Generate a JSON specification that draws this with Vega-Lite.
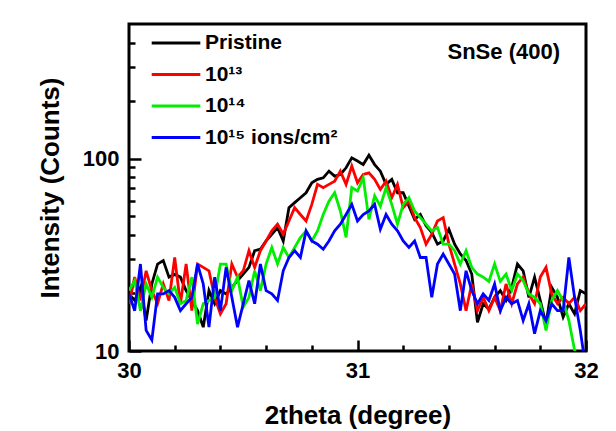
{
  "$schema": "https://vega.github.io/schema/vega-lite/v6.json",
  "width": 457,
  "height": 327,
  "autosize": "none",
  "padding": {"left": 129, "top": 24, "right": 30, "bottom": 80},
  "config": {
    "font": "Liberation Sans",
    "view": {"stroke": "black", "strokeWidth": 3}
  },
  "title": {
    "text": "SnSe (400)",
    "anchor": "end",
    "frame": "group",
    "orient": "top",
    "offset": -57,
    "baseline": "alphabetic",
    "dx": -26,
    "fontSize": 22,
    "fontWeight": "bold",
    "color": "black"
  },
  "data": {
    "values": [
      {"t": 30.000, "Pristine": 19.8, "10¹³": 17.6, "10¹⁴": 20.6, "10¹⁵ ions/cm²": 19.8},
      {"t": 30.025, "Pristine": 18.3, "10¹³": 24.2, "10¹⁴": 23.2, "10¹⁵ ions/cm²": 16.2},
      {"t": 30.050, "Pristine": 21.4, "10¹³": 18.3, "10¹⁴": 16.2, "10¹⁵ ions/cm²": 28.3},
      {"t": 30.075, "Pristine": 14.4, "10¹³": 26.1, "10¹⁴": 22.3, "10¹⁵ ions/cm²": 12.8},
      {"t": 30.100, "Pristine": 22.3, "10¹³": 20.6, "10¹⁴": 19.0, "10¹⁵ ions/cm²": 11.4},
      {"t": 30.125, "Pristine": 28.3, "10¹³": 17.6, "10¹⁴": 24.2, "10¹⁵ ions/cm²": 19.8},
      {"t": 30.150, "Pristine": 29.5, "10¹³": 22.3, "10¹⁴": 21.4, "10¹⁵ ions/cm²": 19.8},
      {"t": 30.175, "Pristine": 24.2, "10¹³": 18.3, "10¹⁴": 19.8, "10¹⁵ ions/cm²": 20.6},
      {"t": 30.200, "Pristine": 25.0, "10¹³": 30.6, "10¹⁴": 21.4, "10¹⁵ ions/cm²": 19.0},
      {"t": 30.225, "Pristine": 24.2, "10¹³": 17.6, "10¹⁴": 17.6, "10¹⁵ ions/cm²": 16.2},
      {"t": 30.250, "Pristine": 20.6, "10¹³": 28.3, "10¹⁴": 18.3, "10¹⁵ ions/cm²": 17.6},
      {"t": 30.275, "Pristine": 18.3, "10¹³": 16.2, "10¹⁴": 24.2, "10¹⁵ ions/cm²": 19.0},
      {"t": 30.300, "Pristine": 16.2, "10¹³": 28.3, "10¹⁴": 13.8, "10¹⁵ ions/cm²": 28.3},
      {"t": 30.325, "Pristine": 13.3, "10¹³": 27.2, "10¹⁴": 17.6, "10¹⁵ ions/cm²": 22.3},
      {"t": 30.350, "Pristine": 20.6, "10¹³": 26.1, "10¹⁴": 18.3, "10¹⁵ ions/cm²": 13.3},
      {"t": 30.375, "Pristine": 17.6, "10¹³": 19.0, "10¹⁴": 19.0, "10¹⁵ ions/cm²": 24.2},
      {"t": 30.400, "Pristine": 20.6, "10¹³": 15.6, "10¹⁴": 28.3, "10¹⁵ ions/cm²": 16.2},
      {"t": 30.425, "Pristine": 19.8, "10¹³": 17.6, "10¹⁴": 28.3, "10¹⁵ ions/cm²": 27.2},
      {"t": 30.450, "Pristine": 21.4, "10¹³": 28.3, "10¹⁴": 20.6, "10¹⁵ ions/cm²": 19.0},
      {"t": 30.475, "Pristine": 23.2, "10¹³": 24.2, "10¹⁴": 24.2, "10¹⁵ ions/cm²": 13.3},
      {"t": 30.500, "Pristine": 25.1, "10¹³": 26.1, "10¹⁴": 16.9, "10¹⁵ ions/cm²": 17.6},
      {"t": 30.525, "Pristine": 27.2, "10¹³": 33.2, "10¹⁴": 19.0, "10¹⁵ ions/cm²": 23.2},
      {"t": 30.550, "Pristine": 33.2, "10¹³": 27.2, "10¹⁴": 26.1, "10¹⁵ ions/cm²": 17.6},
      {"t": 30.575, "Pristine": 33.8, "10¹³": 33.2, "10¹⁴": 20.6, "10¹⁵ ions/cm²": 28.3},
      {"t": 30.600, "Pristine": 37.3, "10¹³": 37.3, "10¹⁴": 28.3, "10¹⁵ ions/cm²": 20.6},
      {"t": 30.625, "Pristine": 40.4, "10¹³": 42.1, "10¹⁴": 34.5, "10¹⁵ ions/cm²": 19.8},
      {"t": 30.650, "Pristine": 43.8, "10¹³": 45.6, "10¹⁴": 28.3, "10¹⁵ ions/cm²": 18.3},
      {"t": 30.675, "Pristine": 37.3, "10¹³": 40.4, "10¹⁴": 34.5, "10¹⁵ ions/cm²": 26.1},
      {"t": 30.700, "Pristine": 55.5, "10¹³": 47.4, "10¹⁴": 30.6, "10¹⁵ ions/cm²": 30.6},
      {"t": 30.725, "Pristine": 59.0, "10¹³": 55.5, "10¹⁴": 34.5, "10¹⁵ ions/cm²": 33.2},
      {"t": 30.750, "Pristine": 62.6, "10¹³": 51.2, "10¹⁴": 38.9, "10¹⁵ ions/cm²": 30.6},
      {"t": 30.775, "Pristine": 66.4, "10¹³": 47.4, "10¹⁴": 42.1, "10¹⁵ ions/cm²": 42.1},
      {"t": 30.800, "Pristine": 74.8, "10¹³": 57.8, "10¹⁴": 37.3, "10¹⁵ ions/cm²": 37.3},
      {"t": 30.825, "Pristine": 77.9, "10¹³": 73.4, "10¹⁴": 42.1, "10¹⁵ ions/cm²": 35.9},
      {"t": 30.850, "Pristine": 79.4, "10¹³": 70.6, "10¹⁴": 51.2, "10¹⁵ ions/cm²": 33.8},
      {"t": 30.875, "Pristine": 86.0, "10¹³": 73.4, "10¹⁴": 60.1, "10¹⁵ ions/cm²": 37.3},
      {"t": 30.900, "Pristine": 81.0, "10¹³": 76.3, "10¹⁴": 66.4, "10¹⁵ ions/cm²": 42.1},
      {"t": 30.925, "Pristine": 82.6, "10¹³": 86.0, "10¹⁴": 53.4, "10¹⁵ ions/cm²": 45.6},
      {"t": 30.950, "Pristine": 89.5, "10¹³": 73.4, "10¹⁴": 38.9, "10¹⁵ ions/cm²": 51.2},
      {"t": 30.975, "Pristine": 100.8, "10¹³": 91.4, "10¹⁴": 70.6, "10¹⁵ ions/cm²": 57.8},
      {"t": 31.000, "Pristine": 97.0, "10¹³": 74.8, "10¹⁴": 67.8, "10¹⁵ ions/cm²": 47.4},
      {"t": 31.025, "Pristine": 93.0, "10¹³": 82.6, "10¹⁴": 79.4, "10¹⁵ ions/cm²": 51.2},
      {"t": 31.050, "Pristine": 104.0, "10¹³": 84.3, "10¹⁴": 48.3, "10¹⁵ ions/cm²": 53.4},
      {"t": 31.075, "Pristine": 93.0, "10¹³": 77.9, "10¹⁴": 64.0, "10¹⁵ ions/cm²": 57.8},
      {"t": 31.100, "Pristine": 86.0, "10¹³": 69.1, "10¹⁴": 56.6, "10¹⁵ ions/cm²": 42.9},
      {"t": 31.125, "Pristine": 73.4, "10¹³": 76.3, "10¹⁴": 70.6, "10¹⁵ ions/cm²": 51.2},
      {"t": 31.150, "Pristine": 77.9, "10¹³": 62.6, "10¹⁴": 57.8, "10¹⁵ ions/cm²": 45.6},
      {"t": 31.175, "Pristine": 66.4, "10¹³": 73.4, "10¹⁴": 45.6, "10¹⁵ ions/cm²": 42.1},
      {"t": 31.200, "Pristine": 66.4, "10¹³": 55.5, "10¹⁴": 57.8, "10¹⁵ ions/cm²": 37.3},
      {"t": 31.225, "Pristine": 56.6, "10¹³": 60.1, "10¹⁴": 62.6, "10¹⁵ ions/cm²": 34.5},
      {"t": 31.250, "Pristine": 48.3, "10¹³": 49.3, "10¹⁴": 53.4, "10¹⁵ ions/cm²": 37.3},
      {"t": 31.275, "Pristine": 51.2, "10¹³": 43.8, "10¹⁴": 49.3, "10¹⁵ ions/cm²": 30.6},
      {"t": 31.300, "Pristine": 44.7, "10¹³": 35.9, "10¹⁴": 45.6, "10¹⁵ ions/cm²": 30.6},
      {"t": 31.325, "Pristine": 41.3, "10¹³": 40.4, "10¹⁴": 42.1, "10¹⁵ ions/cm²": 19.0},
      {"t": 31.350, "Pristine": 35.9, "10¹³": 47.4, "10¹⁴": 43.8, "10¹⁵ ions/cm²": 28.3},
      {"t": 31.375, "Pristine": 37.3, "10¹³": 49.3, "10¹⁴": 35.9, "10¹⁵ ions/cm²": 31.9},
      {"t": 31.400, "Pristine": 42.9, "10¹³": 35.9, "10¹⁴": 35.9, "10¹⁵ ions/cm²": 28.3},
      {"t": 31.425, "Pristine": 35.9, "10¹³": 28.3, "10¹⁴": 33.2, "10¹⁵ ions/cm²": 25.1},
      {"t": 31.450, "Pristine": 31.9, "10¹³": 22.3, "10¹⁴": 28.3, "10¹⁵ ions/cm²": 16.2},
      {"t": 31.475, "Pristine": 29.5, "10¹³": 16.2, "10¹⁴": 33.2, "10¹⁵ ions/cm²": 26.1},
      {"t": 31.500, "Pristine": 25.1, "10¹³": 22.3, "10¹⁴": 27.2, "10¹⁵ ions/cm²": 20.6},
      {"t": 31.525, "Pristine": 14.1, "10¹³": 16.2, "10¹⁴": 25.1, "10¹⁵ ions/cm²": 17.6},
      {"t": 31.550, "Pristine": 17.6, "10¹³": 19.0, "10¹⁴": 24.2, "10¹⁵ ions/cm²": 19.8},
      {"t": 31.575, "Pristine": 16.5, "10¹³": 16.2, "10¹⁴": 23.0, "10¹⁵ ions/cm²": 18.3},
      {"t": 31.600, "Pristine": 19.0, "10¹³": 19.0, "10¹⁴": 28.3, "10¹⁵ ions/cm²": 22.3},
      {"t": 31.625, "Pristine": 20.6, "10¹³": 16.2, "10¹⁴": 23.0, "10¹⁵ ions/cm²": 16.2},
      {"t": 31.650, "Pristine": 18.3, "10¹³": 22.3, "10¹⁴": 25.1, "10¹⁵ ions/cm²": 19.0},
      {"t": 31.675, "Pristine": 21.4, "10¹³": 17.6, "10¹⁴": 20.6, "10¹⁵ ions/cm²": 17.6},
      {"t": 31.700, "Pristine": 28.3, "10¹³": 22.3, "10¹⁴": 25.1, "10¹⁵ ions/cm²": 18.3},
      {"t": 31.725, "Pristine": 26.1, "10¹³": 24.2, "10¹⁴": 23.2, "10¹⁵ ions/cm²": 14.4},
      {"t": 31.750, "Pristine": 19.0, "10¹³": 19.8, "10¹⁴": 19.8, "10¹⁵ ions/cm²": 17.6},
      {"t": 31.775, "Pristine": 24.2, "10¹³": 17.6, "10¹⁴": 19.0, "10¹⁵ ions/cm²": 12.3},
      {"t": 31.800, "Pristine": 18.3, "10¹³": 24.2, "10¹⁴": 17.6, "10¹⁵ ions/cm²": 16.2},
      {"t": 31.825, "Pristine": 13.8, "10¹³": 27.2, "10¹⁴": 12.8, "10¹⁵ ions/cm²": 14.4},
      {"t": 31.850, "Pristine": 21.4, "10¹³": 19.8, "10¹⁴": 18.3, "10¹⁵ ions/cm²": 17.6},
      {"t": 31.875, "Pristine": 19.0, "10¹³": 17.6, "10¹⁴": 20.6, "10¹⁵ ions/cm²": 16.2},
      {"t": 31.900, "Pristine": 15.0, "10¹³": 19.0, "10¹⁴": 18.3, "10¹⁵ ions/cm²": 16.2},
      {"t": 31.925, "Pristine": 17.6, "10¹³": 17.6, "10¹⁴": 14.4, "10¹⁵ ions/cm²": 30.6},
      {"t": 31.950, "Pristine": 15.6, "10¹³": 19.0, "10¹⁴": 10.1, "10¹⁵ ions/cm²": 19.0},
      {"t": 31.975, "Pristine": 20.6, "10¹³": 16.2, "10¹⁴": 8.5, "10¹⁵ ions/cm²": 12.8},
      {"t": 32.000, "Pristine": 19.8, "10¹³": 17.6, "10¹⁴": 8.5, "10¹⁵ ions/cm²": 8.0}
    ]
  },
  "transform": [
    {"fold": ["Pristine", "10¹³", "10¹⁴", "10¹⁵ ions/cm²"], "as": ["s", "v"]}
  ],
  "mark": {"type": "line", "strokeWidth": 2.8, "clip": true},
  "encoding": {
    "x": {
      "field": "t", "type": "quantitative",
      "scale": {"domain": [30, 32], "nice": false, "zero": false},
      "axis": {
        "orient": "bottom",
        "values": [30, 30.2, 30.4, 30.6, 30.8, 31, 31.2, 31.4, 31.6, 31.8, 32],
        "domain": false, "grid": false, "labelOverlap": false,
        "labelExpr": "datum.value % 1 == 0 ? format(datum.value, 'd') : ''",
        "tickSize": {"condition": {"test": "datum.value % 1 == 0", "value": -11}, "value": -6},
        "tickWidth": 2.5, "tickColor": "black",
        "labelPadding": 20.5, "labelFontSize": 22, "labelFontWeight": "bold", "labelColor": "black", "labelFlush": false,
        "title": "2theta (degree)", "titleFontSize": 26, "titleFontWeight": "bold", "titleColor": "black",
        "titleX": 228.5, "titleY": 72, "titleBaseline": "alphabetic", "titleAlign": "center"
      }
    },
    "y": {
      "field": "v", "type": "quantitative",
      "scale": {"type": "log", "domain": [10, 500], "nice": false},
      "axis": {
        "orient": "left",
        "values": [10, 20, 30, 40, 50, 60, 70, 80, 90, 100, 200, 300, 400],
        "domain": false, "grid": false, "labelOverlap": false,
        "labelExpr": "datum.value == 10 || datum.value == 100 ? format(datum.value, 'd') : ''",
        "tickSize": {"condition": {"test": "datum.value == 10 || datum.value == 100", "value": -12}, "value": -6},
        "tickWidth": 2.5, "tickColor": "black",
        "labelPadding": 22, "labelFontSize": 22, "labelFontWeight": "bold", "labelColor": "black", "labelFlush": false,
        "title": "Intensity (Counts)", "titleFontSize": 26, "titleFontWeight": "bold", "titleColor": "black",
        "titleX": -79, "titleY": 163.5, "titleAngle": -90, "titleBaseline": "middle", "titleAlign": "center"
      }
    },
    "color": {
      "field": "s", "type": "nominal", "sort": null,
      "scale": {
        "domain": ["Pristine", "10¹³", "10¹⁴", "10¹⁵ ions/cm²"],
        "range": ["#000000", "#ff0000", "#00ee00", "#0000ff"]
      },
      "legend": {
        "orient": "none", "legendX": 32, "legendY": 4, "padding": 0, "title": null,
        "symbolType": "M-1.8,0H1.8", "symbolSize": 729, "symbolStrokeWidth": 3,
        "labelFontSize": 21, "labelFontWeight": "bold", "labelColor": "black",
        "labelOffset": 14, "rowPadding": 6.5, "labelLimit": 0
      }
    }
  }
}
